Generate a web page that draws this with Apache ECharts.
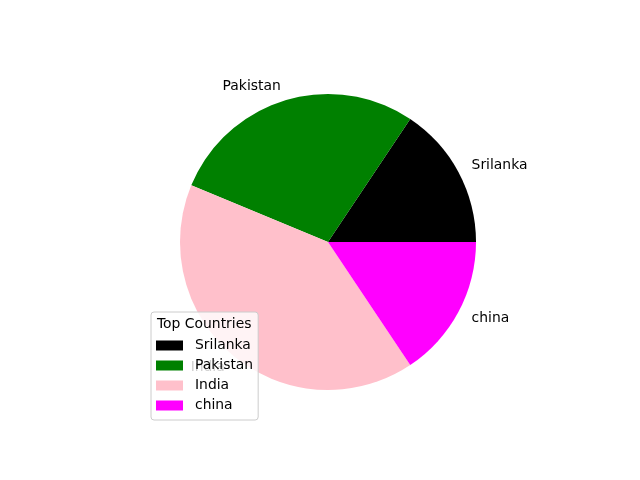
<!DOCTYPE html>
<html><head><meta charset="utf-8">
<script src="https://cdn.jsdelivr.net/npm/echarts@6/dist/echarts.min.js"></script>
<style>html,body{margin:0;padding:0;background:#fff}#c{width:640px;height:480px}</style>
</head><body><div id="c"></div>
<script>
const categories = ['Srilanka', 'Pakistan', 'India', 'china'];
const values = [5, 9, 13, 5];
const colors = ['#000000', '#008000', '#ffc0cb', '#ff00ff'];
const legendTitle = 'Top Countries';

const FONT = 'DejaVu Sans';
const FS = 13.9;
const chart = echarts.init(document.getElementById('c'), null, {renderer: 'canvas'});
chart.setOption({
  animation: false,
  backgroundColor: '#ffffff',
  color: colors,
  legend: {
    orient: 'vertical',
    left: 151, top: 312,
    padding: [26.5, 5, 7.5, 5],
    itemWidth: 27, itemHeight: 10, itemGap: 6.0,
    icon: 'rect',
    backgroundColor: 'rgba(255,255,255,0.8)',
    borderColor: '#cccccc', borderWidth: 1, borderRadius: 3,
    textStyle: {fontFamily: FONT, fontSize: FS, color: '#000', padding: [0, 0, 0, 7]},
    selectedMode: false,
    z: 10,
    data: categories
  },
  graphic: [{
    type: 'text', z: 100, left: 157, top: 317,
    style: {text: legendTitle, fontFamily: FONT, fontSize: FS, fill: '#000'}
  }],
  series: [{
    type: 'pie',
    center: [328, 242],
    radius: 148,
    startAngle: 0,
    clockwise: false,
    avoidLabelOverlap: false,
    silent: true,
    emphasis: {disabled: true},
    itemStyle: {borderWidth: 0},
    label: {show: true, position: 'outside', fontFamily: FONT, fontSize: FS, color: '#000', distanceToLabelLine: 0, padding: [2, 0, 0, 0]},
    labelLine: {show: false, length: 14.8, length2: 0},
    data: categories.map((n, i) => ({name: n, value: values[i]}))
  }]
});
</script></body></html>
